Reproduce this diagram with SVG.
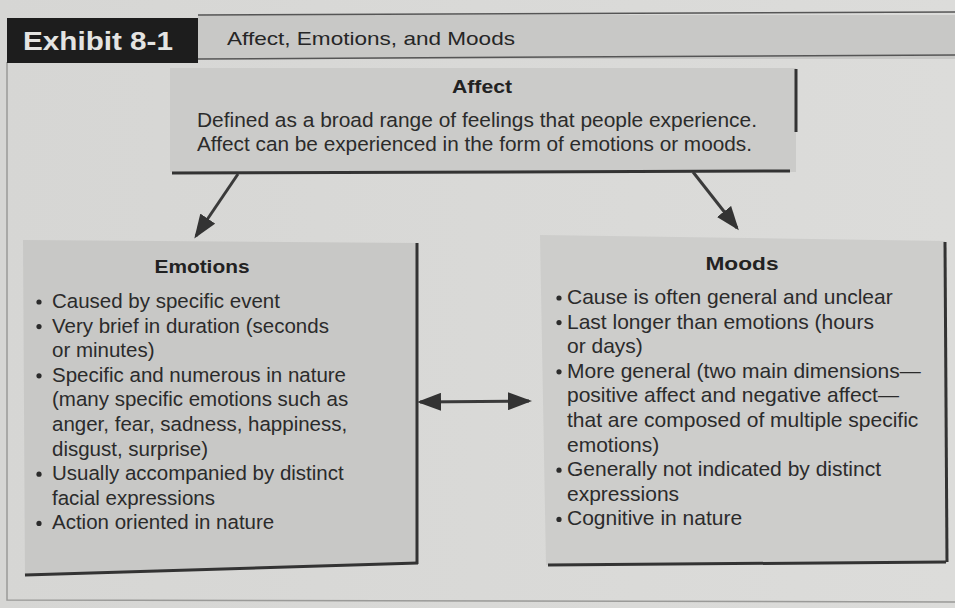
<svg xmlns="http://www.w3.org/2000/svg" width="955" height="608" viewBox="0 0 955 608">
<defs>
<style>
.t{font-family:"Liberation Sans",Arial,sans-serif;font-size:20.5px;fill:#2b2b2b}
.tm{font-family:"Liberation Sans",Arial,sans-serif;font-size:21px;fill:#2b2b2b}
.h{font-family:"Liberation Sans",Arial,sans-serif;font-size:18px;font-weight:bold;fill:#222}
.edge{stroke:#333;stroke-width:3;fill:none}
.conn{stroke:#3a3a3a;stroke-width:3;fill:none}
.dot{fill:#2b2b2b}
</style>
<marker id="ah" markerWidth="8" markerHeight="6" refX="7" refY="3" orient="auto-start-reverse" markerUnits="strokeWidth">
<path d="M0,0 L8,3 L0,6 Z" fill="#333"/>
</marker>
<linearGradient id="bg" x1="0" y1="0" x2="1" y2="0">
<stop offset="0" stop-color="#d6d6d4"/>
<stop offset="1" stop-color="#dcdcda"/>
</linearGradient>
</defs>
<rect x="0" y="0" width="955" height="608" fill="url(#bg)"/>
<path d="M7,62 L7,600 L955,602" stroke="#9a9a98" stroke-width="1.5" fill="none"/>

<g id="header">
<rect x="198" y="15" width="757" height="44" fill="#c8c8c6"/>
<path d="M198,15 L955,12" stroke="#555" stroke-width="1.5"/>
<path d="M198,59 L955,55" stroke="#555" stroke-width="1.5"/>
<rect x="7" y="18" width="191" height="45" fill="#1d1d1d"/>
<text x="23" y="50" font-family="'Liberation Sans',Arial,sans-serif" font-size="26" font-weight="bold" fill="#e4e4e2" textLength="150" lengthAdjust="spacingAndGlyphs">Exhibit 8-1</text>
<text x="227" y="45" font-family="'Liberation Sans',Arial,sans-serif" font-size="19" fill="#262626" textLength="288" lengthAdjust="spacingAndGlyphs">Affect, Emotions, and Moods</text>
</g>

<g id="affect">
<rect x="170" y="68" width="626" height="104" fill="#cbcbc9"/>
<path class="edge" d="M796,69 L796,132"/>
<path class="edge" d="M172,173 L790,171" stroke-width="3.5"/>
<text class="h" x="482" y="93" text-anchor="middle" textLength="60" lengthAdjust="spacingAndGlyphs">Affect</text>
<text class="t" x="197" y="127" textLength="560" lengthAdjust="spacingAndGlyphs">Defined as a broad range of feelings that people experience.</text>
<text class="t" x="197" y="151" textLength="555" lengthAdjust="spacingAndGlyphs">Affect can be experienced in the form of emotions or moods.</text>
</g>

<g id="emotions">
<path d="M23,240 L416,243 L418,563 L25,575 Z" fill="#c8c8c6"/>
<path class="edge" d="M417,243 L417,564"/>
<path class="edge" d="M25,575 L418,563" stroke-width="3.5"/>
<text class="h" x="202" y="273" text-anchor="middle" textLength="95" lengthAdjust="spacingAndGlyphs">Emotions</text>
<circle class="dot" cx="39" cy="302" r="2.6"/>
<circle class="dot" cx="39" cy="326.6" r="2.6"/>
<circle class="dot" cx="39" cy="375.8" r="2.6"/>
<circle class="dot" cx="39" cy="474.2" r="2.6"/>
<circle class="dot" cx="39" cy="523.4" r="2.6"/>
<text class="t" x="52" y="308">Caused by specific event</text>
<text class="t" x="52" y="332.6">Very brief in duration (seconds</text>
<text class="t" x="52" y="357.2">or minutes)</text>
<text class="t" x="52" y="381.8">Specific and numerous in nature</text>
<text class="t" x="52" y="406.4">(many specific emotions such as</text>
<text class="t" x="52" y="431">anger, fear, sadness, happiness,</text>
<text class="t" x="52" y="455.6">disgust, surprise)</text>
<text class="t" x="52" y="480.2">Usually accompanied by distinct</text>
<text class="t" x="52" y="504.8">facial expressions</text>
<text class="t" x="52" y="529.4">Action oriented in nature</text>
</g>

<g id="moods">
<path d="M540,235 L945,241 L947,563 L546,565 Z" fill="#cdcdcb"/>
<path class="edge" d="M945,242 L947,562" stroke="#555" stroke-width="2.5"/>
<path class="edge" d="M548,565 L946,562" stroke="#444" stroke-width="3"/>
<text class="h" x="742" y="270" text-anchor="middle" textLength="73" lengthAdjust="spacingAndGlyphs">Moods</text>
<circle class="dot" cx="559" cy="298" r="2.6"/>
<circle class="dot" cx="559" cy="322.6" r="2.6"/>
<circle class="dot" cx="559" cy="371.8" r="2.6"/>
<circle class="dot" cx="559" cy="470.2" r="2.6"/>
<circle class="dot" cx="559" cy="519.4" r="2.6"/>
<text class="tm" x="567" y="304">Cause is often general and unclear</text>
<text class="tm" x="567" y="328.6">Last longer than emotions (hours</text>
<text class="tm" x="567" y="353.2">or days)</text>
<text class="tm" x="567" y="377.8">More general (two main dimensions—</text>
<text class="tm" x="567" y="402.4">positive affect and negative affect—</text>
<text class="tm" x="567" y="427">that are composed of multiple specific</text>
<text class="tm" x="567" y="451.6">emotions)</text>
<text class="tm" x="567" y="476.2">Generally not indicated by distinct</text>
<text class="tm" x="567" y="500.8">expressions</text>
<text class="tm" x="567" y="525.4">Cognitive in nature</text>
</g>

<g id="connectors">
<path class="conn" d="M238,174 L196,236" marker-end="url(#ah)"/>
<path class="conn" d="M693,172 L737,228" marker-end="url(#ah)"/>
<path class="conn" d="M420,402 L529,401" stroke-width="2.5" marker-start="url(#ah)" marker-end="url(#ah)"/>
</g>
</svg>
